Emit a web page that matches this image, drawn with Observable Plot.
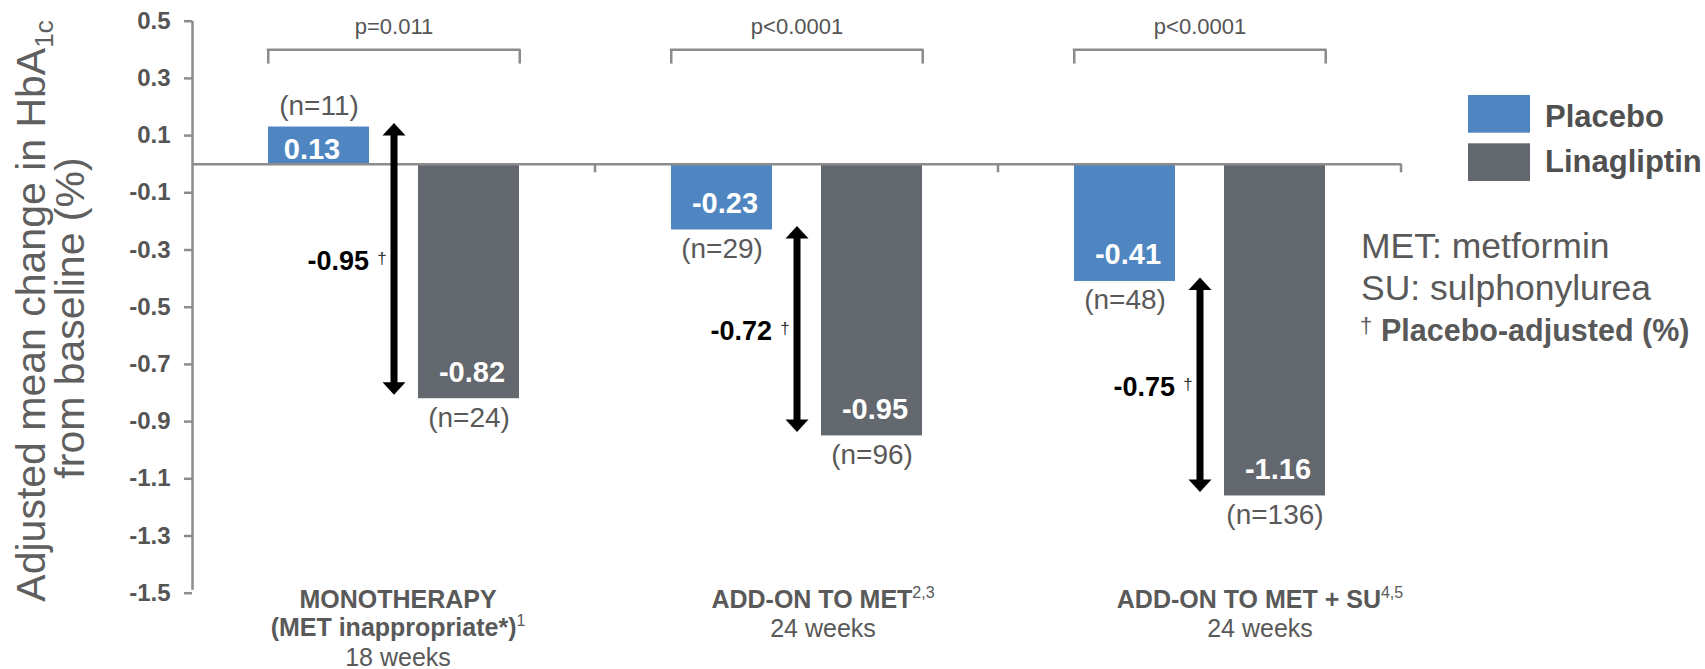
<!DOCTYPE html>
<html>
<head>
<meta charset="utf-8">
<script src="https://cdn.jsdelivr.net/npm/d3@7"></script>
<script src="https://cdn.jsdelivr.net/npm/@observablehq/plot@0.6"></script>
<style>
  html, body { margin: 0; padding: 0; background: #ffffff; }
  #chart { width: 1705px; height: 669px; overflow: hidden; }
</style>
</head>
<body>
<div id="chart"></div>
<script>
// ---- Data -----------------------------------------------------------------
const groups = ["Monotherapy", "Add-on to MET", "Add-on to MET + SU"];
const series = ["Placebo", "Linagliptin"];
const placeboChange = [0.13, -0.23, -0.41];
const linagliptinChange = [-0.82, -0.95, -1.16];
const placeboN = [11, 29, 48];
const linagliptinN = [24, 96, 136];
const adjustedDifference = [-0.95, -0.72, -0.75];
const pValues = ["p=0.011", "p<0.0001", "p<0.0001"];
const groupTitles = [["MONOTHERAPY", "(MET inappropriate*)"], ["ADD-ON TO MET"], ["ADD-ON TO MET + SU"]];
const groupRefs = ["1", "2,3", "4,5"];
const durations = ["18 weeks", "24 weeks", "24 weeks"];
const yTicks = [0.5, 0.3, 0.1, -0.1, -0.3, -0.5, -0.7, -0.9, -1.1, -1.3, -1.5];
const yTitleMain = "Adjusted mean change in HbA";
const yTitleSub = "1c";
const yTitleSecond = "from baseline (%)";
const abbreviations = ["MET: metformin", "SU: sulphonylurea"];
const adjustedNote = "Placebo-adjusted (%)";

const bars = groups.flatMap((group, i) => [
  {group, series: "Placebo", value: placeboChange[i], n: placeboN[i]},
  {group, series: "Linagliptin", value: linagliptinChange[i], n: linagliptinN[i]}
]);
const comparisons = groups.map((group, i) => ({
  group,
  placebo: placeboChange[i],
  linagliptin: linagliptinChange[i],
  diff: adjustedDifference[i],
  p: pValues[i],
  title: groupTitles[i],
  ref: groupRefs[i],
  duration: durations[i]
}));

// ---- Layout ---------------------------------------------------------------
const W = 1705, H = 669;
const M = {top: 20.7, right: 304, bottom: 76.3, left: 192};
const PAD_IN = 0.328, PAD_OUT = 0.4985;
const facetW = (W - M.left - M.right) / groups.length;
const step = facetW / (series.length - PAD_IN + 2 * PAD_OUT);
const bandW = step * (1 - PAD_IN);
const linaCenter = step * PAD_OUT + step + bandW / 2;
const BRACKET_TOP = 0.40, BRACKET_FOOT = 0.35;
const TITLE_NUDGE = [4, 26, 60];
const frameBottom = H - M.bottom;
const firstGroup = () => groups[0];

const FONT = "'Liberation Sans', Arial, Helvetica, sans-serif";
const LINE = "#8c8c8c";
const INK = "#595959";

// filled arrow heads for the placebo-adjusted difference
const headUp = {draw(ctx) { ctx.moveTo(0, 0); ctx.lineTo(11.5, 12.5); ctx.lineTo(-11.5, 12.5); ctx.closePath(); }};
const headDown = {draw(ctx) { ctx.moveTo(0, 0); ctx.lineTo(11.5, -12.5); ctx.lineTo(-11.5, -12.5); ctx.closePath(); }};

const titleMarks = comparisons.flatMap((c, i) => [
  Plot.text([c], {
    fx: "group", frameAnchor: "bottom",
    text: d => d.title.join("\n"),
    lineAnchor: "top", lineHeight: 1.13,
    dy: 607 - frameBottom - 0.71 * 1.13 * 25,
    dx: TITLE_NUDGE[i],
    fontSize: 25, fontWeight: "bold", fill: INK
  }),
  Plot.text([c], {
    fx: "group", frameAnchor: "bottom",
    text: "duration",
    lineAnchor: "bottom",
    dy: 607 + 29 * c.title.length - frameBottom,
    dx: TITLE_NUDGE[i],
    fontSize: 25, fill: INK
  })
]);

const plot = Plot.plot({
  width: W,
  height: H,
  marginTop: M.top,
  marginRight: M.right,
  marginBottom: M.bottom,
  marginLeft: M.left,
  style: {fontFamily: FONT, background: "#ffffff"},
  fx: {domain: groups, padding: 0, axis: null},
  x: {domain: series, paddingInner: PAD_IN, paddingOuter: PAD_OUT, axis: null},
  y: {domain: [-1.5, 0.5], axis: null},
  color: {domain: series, range: ["#4f86c1", "#63676e"]},
  marks: [
    // y axis: line, ticks and labels drawn on the first study block
    Plot.ruleX([0], {fx: firstGroup, x: null, y1: () => -1.5, y2: () => 0.5, insetTop: -3, dx: -facetW / 2, stroke: LINE, strokeWidth: 2.5}),
    Plot.ruleY(yTicks, {fx: firstGroup, y: d => d, insetRight: facetW - 8, dx: -8, stroke: LINE, strokeWidth: 2.5}),
    Plot.text(yTicks, {
      fx: firstGroup, y: d => d, text: d => d.toFixed(1), frameAnchor: "left", textAnchor: "end",
      dx: -22, fontSize: 24, fontWeight: "bold", fill: "#555555"
    }),

    Plot.barY(bars, {fx: "group", x: "series", y: "value", fill: "series"}),
    Plot.ruleY([0], {stroke: LINE, strokeWidth: 2.5}),
    // small ticks marking the end of each study block on the zero line
    Plot.ruleX(["Linagliptin"], {x: d => d, y1: 0, y2: -0.03, dx: facetW - linaCenter, stroke: LINE, strokeWidth: 2.5}),

    // significance brackets
    Plot.ruleY(comparisons, {fx: "group", y: () => BRACKET_TOP, x1: () => "Placebo", x2: () => "Linagliptin", stroke: LINE, strokeWidth: 2.5, strokeLinecap: "square"}),
    Plot.ruleX(comparisons, {fx: "group", x: () => "Placebo", y1: () => BRACKET_FOOT, y2: () => BRACKET_TOP, dx: -bandW / 2, stroke: LINE, strokeWidth: 2.5}),
    Plot.ruleX(comparisons, {fx: "group", x: () => "Linagliptin", y1: () => BRACKET_FOOT, y2: () => BRACKET_TOP, dx: bandW / 2, stroke: LINE, strokeWidth: 2.5}),
    Plot.text(comparisons, {fx: "group", y: () => BRACKET_TOP, text: "p", lineAnchor: "bottom", dy: -16, fontSize: 22, fill: "#555555"}),

    // value labels inside the bars
    Plot.text(bars.filter(d => d.value < 0), {
      fx: "group", x: "series", y: "value", text: d => d.value.toFixed(2),
      lineAnchor: "bottom", dy: -17, dx: 3, fill: "white", fontSize: 29, fontWeight: "bold"
    }),
    Plot.text(bars.filter(d => d.value >= 0), {
      fx: "group", x: "series", y: () => 0, text: d => d.value.toFixed(2),
      lineAnchor: "bottom", dy: -5, dx: -7, fill: "white", fontSize: 29, fontWeight: "bold"
    }),

    // sample sizes
    Plot.text(bars.filter(d => d.value < 0), {
      fx: "group", x: "series", y: "value", text: d => `(n=${d.n})`,
      lineAnchor: "bottom", dy: 28, fill: INK, fontSize: 28
    }),
    Plot.text(bars.filter(d => d.value >= 0), {
      fx: "group", x: "series", y: "value", text: d => `(n=${d.n})`,
      lineAnchor: "bottom", dy: -12, fill: INK, fontSize: 28
    }),

    // placebo-adjusted difference arrows
    Plot.ruleX(comparisons, {fx: "group", x: null, y1: "placebo", y2: "linagliptin", dy: -4, insetTop: 9, insetBottom: 9, stroke: "black", strokeWidth: 7}),
    Plot.dot(comparisons, {fx: "group", y: "placebo", dy: -4, symbol: headUp, fill: "black", stroke: "none"}),
    Plot.dot(comparisons, {fx: "group", y: "linagliptin", dy: -4, symbol: headDown, fill: "black", stroke: "none"}),
    Plot.text(comparisons, {
      fx: "group", y: d => (d.placebo + d.linagliptin) / 2, text: d => d.diff.toFixed(2),
      textAnchor: "end", lineAnchor: "bottom", dx: -25, dy: 7, fill: "black", fontSize: 27, fontWeight: "bold"
    }),
    Plot.text(comparisons, {
      fx: "group", y: d => (d.placebo + d.linagliptin) / 2, text: () => "\u2020",
      lineAnchor: "bottom", dx: -12, dy: 1, fill: "#333333", fontSize: 17
    }),

    ...titleMarks
  ]
});

document.getElementById("chart").appendChild(plot);
const svg = d3.select(plot);

// superscript reference numbers after each study title
svg.selectAll("text").each(function () {
  const i = groupTitles.findIndex(lines => lines.join("") === this.textContent);
  if (i < 0) return;
  const lines = this.querySelectorAll("tspan");
  const host = lines.length ? lines[lines.length - 1] : this;
  d3.select(host).append("tspan")
    .attr("font-size", 16).attr("font-weight", "normal").attr("dy", -10)
    .text(groupRefs[i]);
});

// y-axis title with subscript
const yTitle = svg.append("g")
  .attr("fill", "#5f5f5f").attr("font-size", 41).attr("text-anchor", "middle")
  .attr("font-family", FONT);
const t1 = yTitle.append("text").attr("transform", "translate(45,311) rotate(-90)");
t1.append("tspan").text(yTitleMain);
t1.append("tspan").attr("font-size", 26).attr("dy", 8).text(yTitleSub);
yTitle.append("text").attr("transform", "translate(84,318) rotate(-90)").text(yTitleSecond);

// legend built from the color scale
const color = plot.scale("color");
const legend = svg.append("g").attr("font-family", FONT).attr("font-size", 31)
  .attr("font-weight", "bold").attr("fill", "#505050").attr("text-anchor", "start");
color.domain.forEach((name, i) => {
  legend.append("rect").attr("x", 1468).attr("y", 95 + i * 48.3).attr("width", 62).attr("height", 37.7).attr("fill", color.range[i]);
  legend.append("text").attr("x", 1545).attr("y", 127 + i * 45).text(name);
});

// abbreviations and footnote key
const notes = svg.append("g").attr("font-family", FONT).attr("fill", INK).attr("text-anchor", "start");
abbreviations.forEach((line, i) => {
  notes.append("text").attr("x", 1361).attr("y", 258 + i * 42).attr("font-size", 35.5).text(line);
});
notes.append("text").attr("x", 1360).attr("y", 333).attr("font-size", 22).text("\u2020");
notes.append("text").attr("x", 1381).attr("y", 341).attr("font-size", 30.5).attr("font-weight", "bold").text(adjustedNote);
</script>
</body>
</html>
